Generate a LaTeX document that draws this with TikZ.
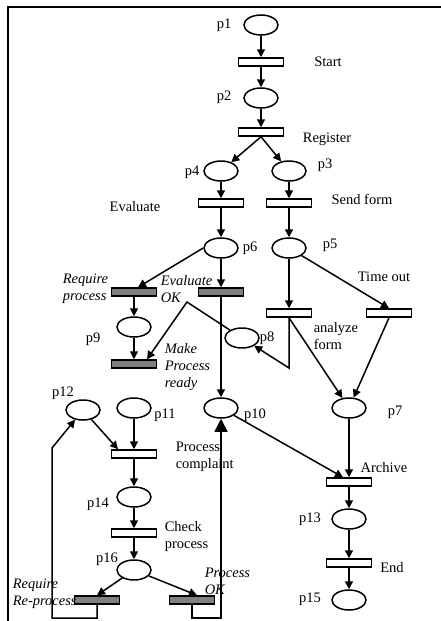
\documentclass[tikz,border=0pt]{standalone}
\usepackage{fontspec}
\setmainfont{Liberation Serif}
\usetikzlibrary{shapes.geometric,arrows.meta}
\tikzset{ell/.style={ellipse,draw,line width=1.5pt,minimum width=34pt,minimum height=20pt,inner sep=0pt},
  tbar/.style={rectangle,draw,line width=1.5pt,fill=white,minimum width=45pt,minimum height=8pt,inner sep=0pt},
  gbar/.style={tbar,fill=gray},
  txt/.style={inner sep=0pt,font=\fontsize{14.5}{17}\selectfont},
  mtxt/.style={txt,align=left,anchor=west},
  itxt/.style={mtxt,font=\fontsize{14.5}{17}\selectfont\itshape}}

\begin{document}
\begin{tikzpicture}[x=1pt,y=-1pt,>={Triangle[length=8pt,width=8pt]},line width=1.5pt]
    \useasboundingbox (0,0) rectangle (441,621);
    \clip (0,0) rectangle (441,621);
    \draw[line width=1.8pt] (8,7) rectangle (470,650);

    % places
    \node[ell] (p1) at (261,25) {};
    \node[ell] (p2) at (261,98) {};
    \node[ell] (p4) at (221,171) {};
    \node[ell] (p3) at (289,171) {};
    \node[ell] (p6) at (221,248) {};
    \node[ell] (p5) at (289,248) {};
    \node[ell] (p9) at (134,327) {};
    \node[ell] (p8) at (242,338) {};
    \node[ell] (p12) at (83,410) {};
    \node[ell] (p11) at (134,408) {};
    \node[ell] (p10) at (221,408) {};
    \node[ell] (p7) at (349,408) {};
    \node[ell] (p14) at (134,497) {};
    \node[ell] (p13) at (349,519) {};
    \node[ell] (p16) at (134,570) {};
    \node[ell] (p15) at (349,600) {};

    % transitions
    \node[tbar] (start) at (261,62) {};
    \node[tbar] (register) at (261,132) {};
    \node[tbar] (evaluate) at (221,203) {};
    \node[tbar] (sendform) at (289,203) {};
    \node[gbar] (reqproc) at (134,292) {};
    \node[gbar] (evalok) at (221,292) {};
    \node[tbar] (analyze) at (289,313) {};
    \node[tbar] (timeout) at (389,313) {};
    \node[gbar] (makeready) at (134,364) {};
    \node[tbar] (complaint) at (134,454) {};
    \node[tbar] (archive) at (349,482) {};
    \node[tbar] (check) at (134,533) {};
    \node[tbar] (end) at (349,563) {};
    \node[gbar] (reqre) at (97,600) {};
    \node[gbar] (procok) at (192,600) {};

    % labels
    \node[txt] (lp1) at (224,25) {p1};
    \node[txt] (lp2) at (224,97) {p2};
    \node[txt] (lp4) at (192,172) {p4};
    \node[txt] (lp3) at (325,165) {p3};
    \node[txt] (lp6) at (250,248) {p6};
    \node[txt] (lp5) at (330,245) {p5};
    \node[txt] (lp9) at (93,339) {p9};
    \node[txt] (lp8) at (267,338) {p8};
    \node[txt] (lp12) at (63,393) {p12};
    \node[txt] (lp11) at (165,415) {p11};
    \node[txt] (lp10) at (255,415) {p10};
    \node[txt] (lp7) at (395,412) {p7};
    \node[txt] (lp14) at (98,504) {p14};
    \node[txt] (lp13) at (310,519) {p13};
    \node[txt] (lp16) at (107,559) {p16};
    \node[txt] (lp15) at (310,599) {p15};
    \node[txt] (lstart) at (328,62) {Start};
    \node[txt] (lregister) at (327,139) {Register};
    \node[txt] (levaluate) at (135,207) {Evaluate};
    \node[txt] (lsendform) at (362,199) {Send form};
    \node[itxt] (lreqproc) at (62,289) {Require\\process};
    \node[itxt] (levalok) at (160,289) {Evaluate\\OK};
    \node[txt] (ltimeout) at (384,277) {Time out};
    \node[mtxt] (lanalyze) at (313,336) {analyze\\form};
    \node[itxt] (lmakeready) at (164,367) {Make\\Process\\ready};
    \node[mtxt] (lcomplaint) at (175,457) {Process\\complaint};
    \node[txt] (larchive) at (384,468) {Archive};
    \node[mtxt] (lcheck) at (164,537) {Check\\process};
    \node[txt] (lend) at (392,568) {End};
    \node[itxt] (lprocok) at (204,581) {Process\\OK};
    \node[itxt] (lreqre) at (12,594) {Require\\Re-process};

    % bend points
    \coordinate (b1) at (187,302);
    \coordinate (b2) at (289,368);
    \coordinate (r1) at (52,618);
    \coordinate (r2) at (52,448);
    \coordinate (r3) at (221,618);

    % arcs
    \draw [->] (p1) to (start);
    \draw [->] (start) to (p2);
    \draw [->] (p2) to (register);
    \draw [->] (register.south) to (p4);
    \draw [->] (register.south) to (p3);
    \draw [->] (p4) to (evaluate);
    \draw [->] (p3) to (sendform);
    \draw [->] (evaluate) to (p6);
    \draw [->] (sendform) to (p5);
    \draw [->] (p6.west) to ([xshift=4]reqproc.north);
    \draw [->] (p6) to (evalok);
    \draw [->] (reqproc) to (p9);
    \draw [->] (p9) to (makeready);
    \draw [->] (p8) -- (b1) -- ([xshift=13]makeready.north);
    \draw [->] (p5) to (analyze);
    \draw [->] (p5) to (timeout.north);
    \draw [->] (analyze.south) -- (b2) -- (p8);
    \draw [->] (analyze.south) to (p7);
    \draw [->] (timeout.south) to (p7);
    \draw [->] (evalok) to (p10);
    \draw [->] (p12) to ([xshift=-16]complaint.north);
    \draw [->] (p11) to (complaint);
    \draw [->] (p10) to ([xshift=-6]archive.north);
    \draw [->] (p7) to (archive);
    \draw [->] (complaint) to (p14);
    \draw [->] (p14) to (check);
    \draw [->] (check) to (p16);
    \draw [->] (archive) to (p13);
    \draw [->] (p13) to (end);
    \draw [->] (end) to (p15);
    \draw [->] (p16) to (reqre.north);
    \draw [->] (p16) to ([xshift=5]procok.north);
    \draw [->] (reqre.south) |- (r1) -- (r2) -- (p12);
    \draw [-{Triangle[length=13pt,width=13pt]}] (procok.south) |- (r3) -- (p10);
\end{tikzpicture}
\end{document}
